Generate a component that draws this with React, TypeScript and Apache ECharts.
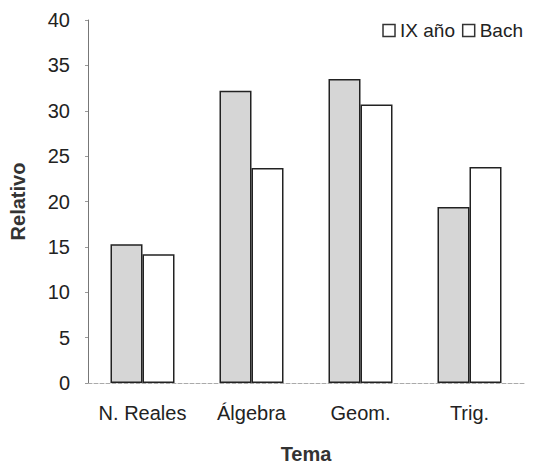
import React, { useEffect, useRef } from "react";
import * as echarts from "echarts";

const categories = ["N. Reales", "Álgebra", "Geom.", "Trig."];
const ixAno = [15.3, 32.2, 33.5, 19.4];
const bach = [14.2, 23.7, 30.7, 23.8];
const seriesNames = ["IX año", "Bach"];

export default function App() {
  const ref = useRef<HTMLDivElement>(null);
  useEffect(() => {
    if (!ref.current) return;
    const chart = echarts.init(ref.current, undefined, { renderer: "svg" });
    const font = "'Liberation Sans', Arial, sans-serif";
    chart.setOption({
      animation: false,
      backgroundColor: "#ffffff",
      textStyle: { fontFamily: font },
      legend: {
        right: 5,
        top: 16,
        itemWidth: 12,
        itemHeight: 12,
        itemGap: 7,
        icon: "rect",
        textStyle: { fontSize: 19, color: "#222", fontFamily: font },
        data: [
          { name: seriesNames[0], itemStyle: { color: "#ffffff", borderColor: "#333", borderWidth: 1.5 } },
          { name: seriesNames[1], itemStyle: { color: "#ffffff", borderColor: "#333", borderWidth: 1.5 } },
        ],
      },
      grid: { left: 88, right: 9, top: 20, bottom: 82, containLabel: false, outerBoundsMode: "none" },
      xAxis: {
        type: "category",
        data: categories,
        name: "Tema",
        nameLocation: "middle",
        nameGap: 61,
        nameTextStyle: { fontSize: 20, fontWeight: "bold", color: "#333", fontFamily: font },
        axisLine: { show: true, lineStyle: { color: "#aaa", type: "dashed", width: 1 } },
        axisTick: { show: false },
        axisLabel: { interval: 0, fontSize: 20, color: "#222", margin: 20, fontFamily: font },
      },
      yAxis: {
        type: "value",
        min: 0,
        max: 40,
        interval: 5,
        name: "Relativo",
        nameLocation: "middle",
        nameGap: 60,
        nameTextStyle: { fontSize: 20, fontWeight: "bold", color: "#333", fontFamily: font },
        axisLine: { show: true, lineStyle: { color: "#777", width: 1 } },
        axisTick: { show: true, length: 3, lineStyle: { color: "#999" } },
        splitLine: { show: false },
        axisLabel: { fontSize: 20, color: "#222", margin: 18, fontFamily: font },
      },
      series: [
        {
          name: seriesNames[0],
          type: "bar",
          data: ixAno,
          barWidth: 32,
          barGap: "0%",
          itemStyle: { color: "#d6d6d6", borderColor: "#222", borderWidth: 1.5 },
        },
        {
          name: seriesNames[1],
          type: "bar",
          data: bach,
          barWidth: 32,
          barGap: "0%",
          itemStyle: { color: "#ffffff", borderColor: "#222", borderWidth: 1.5 },
        },
      ],
    });
    return () => chart.dispose();
  }, []);
  return (
    <div
      ref={ref}
      style={{ position: "absolute", left: 0, top: 0, width: 533, height: 465 }}
    />
  );
}
